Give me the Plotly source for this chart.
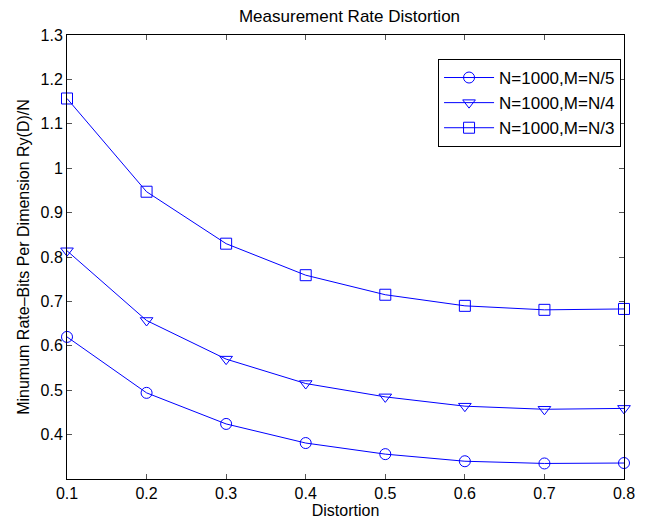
import plotly.graph_objects as go

distortion = [0.1, 0.2, 0.3, 0.4, 0.5, 0.6, 0.7, 0.8]
rate_m5 = [0.620, 0.494, 0.424, 0.381, 0.356, 0.340, 0.335, 0.336]
rate_m4 = [0.814, 0.657, 0.570, 0.515, 0.485, 0.464, 0.457, 0.459]
rate_m3 = [1.157, 0.947, 0.830, 0.759, 0.715, 0.690, 0.681, 0.683]
series_names = ["N=1000,M=N/5", "N=1000,M=N/4", "N=1000,M=N/3"]
symbols = ["circle-open", "triangle-down-open", "square-open"]
x_ticks = [0.1, 0.2, 0.3, 0.4, 0.5, 0.6, 0.7, 0.8]
x_ticktext = ["0.1", "0.2", "0.3", "0.4", "0.5", "0.6", "0.7", "0.8"]
y_ticks = [0.4, 0.5, 0.6, 0.7, 0.8, 0.9, 1.0, 1.1, 1.2, 1.3]
y_ticktext = ["0.4", "0.5", "0.6", "0.7", "0.8", "0.9", "1", "1.1", "1.2", "1.3"]

FONT = "Liberation Sans, Arial, Helvetica, sans-serif"
BLUE = "rgb(0,0,255)"

fig = go.Figure()
for name, ys, sym in zip(series_names, [rate_m5, rate_m4, rate_m3], symbols):
    fig.add_trace(go.Scatter(
        x=distortion, y=ys, name=name, mode="lines+markers",
        line=dict(color=BLUE, width=1),
        marker=dict(symbol=sym, size=11, color=BLUE, line=dict(color=BLUE, width=1)),
        cliponaxis=False,
    ))

axis_common = dict(
    showline=True, linecolor="black", linewidth=1, mirror="allticks",
    ticks="inside", ticklen=5, tickcolor="#555", tickwidth=1,
    showgrid=False, zeroline=False,
    tickfont=dict(family=FONT, size=16, color="black"),
)

fig.update_layout(
    width=647, height=527,
    margin=dict(l=67, r=15, t=35, b=48),
    paper_bgcolor="white", plot_bgcolor="white",
    title=dict(text="Measurement Rate Distortion", x=(67 + 632) / 2 / 647, xanchor="center",
               y=1 - 16 / 527, yanchor="middle",
               font=dict(family=FONT, size=17, color="black")),
    xaxis=dict(range=[0.1, 0.8], tickvals=x_ticks, ticktext=x_ticktext,
               title=dict(text="Distortion", standoff=2,
                          font=dict(family=FONT, size=16, color="black")),
               **axis_common),
    yaxis=dict(range=[0.3, 1.3], tickvals=y_ticks, ticktext=y_ticktext,
               title=dict(text="Minumum Rate–Bits Per Dimension Ry(D)/N", standoff=6,
                          font=dict(family=FONT, size=16, color="black")),
               **axis_common),
    legend=dict(x=0.9947, y=0.946, xanchor="right", yanchor="top",
                bgcolor="white", bordercolor="black", borderwidth=1,
                font=dict(family=FONT, size=17, color="black"),
                itemwidth=50, tracegroupgap=0),
    showlegend=True,
)

fig.write_html("out.html")
